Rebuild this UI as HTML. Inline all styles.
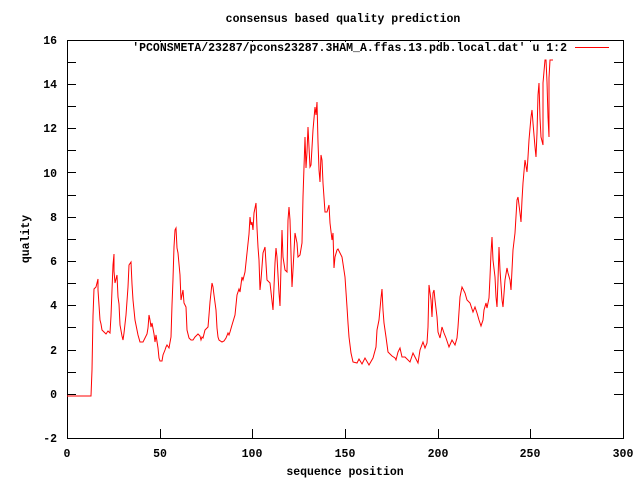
<!DOCTYPE html>
<html><head><meta charset="utf-8"><style>
html,body{margin:0;padding:0;background:#fff;}
svg{display:block;}
text{font-family:"Liberation Mono",monospace;font-size:11.5px;font-weight:bold;fill:#000;}
</style></head><body>
<svg width="640" height="480" viewBox="0 0 640 480" xmlns="http://www.w3.org/2000/svg">
<rect width="640" height="480" fill="#fff"/>
<g stroke="#000" stroke-width="1" fill="none" shape-rendering="crispEdges">
<rect x="67.5" y="40.5" width="556" height="398"/>
<path d="M67,438.5h9M623,438.5h-9M67,394.5h9M623,394.5h-9M67,372.5h9M623,372.5h-9M67,350.5h9M623,350.5h-9M67,327.5h9M623,327.5h-9M67,305.5h9M623,305.5h-9M67,283.5h9M623,283.5h-9M67,261.5h9M623,261.5h-9M67,239.5h9M623,239.5h-9M67,217.5h9M623,217.5h-9M67,195.5h9M623,195.5h-9M67,172.5h9M623,172.5h-9M67,150.5h9M623,150.5h-9M67,128.5h9M623,128.5h-9M67,106.5h9M623,106.5h-9M67,84.5h9M623,84.5h-9M67,62.5h9M623,62.5h-9M67,40.5h9M623,40.5h-9"/>
<path d="M67.5,438v-9M67.5,40v9M160.5,438v-9M160.5,40v9M252.5,438v-9M252.5,40v9M345.5,438v-9M345.5,40v9M438.5,438v-9M438.5,40v9M530.5,438v-9M530.5,40v9M623.5,438v-9M623.5,40v9"/>
</g>
<rect x="126" y="42" width="486" height="12" fill="#fff"/>
<g text-anchor="end">
<text x="57" y="442">-2</text><text x="57" y="398">0</text><text x="57" y="354">2</text>
<text x="57" y="309">4</text><text x="57" y="265">6</text><text x="57" y="221">8</text>
<text x="57" y="177">10</text><text x="57" y="132">12</text><text x="57" y="88">14</text>
<text x="57" y="44">16</text>
</g>
<g text-anchor="middle">
<text x="67" y="457">0</text><text x="160" y="457">50</text><text x="252" y="457">100</text>
<text x="345" y="457">150</text><text x="438" y="457">200</text><text x="530" y="457">250</text>
<text x="623" y="457">300</text>
<text x="343" y="22">consensus based quality prediction</text>
<text x="345" y="475">sequence position</text>
<text transform="translate(29,239) rotate(-90)">quality</text>
</g>
<text x="567" y="51" text-anchor="end">'PCONSMETA/23287/pcons23287.3HAM_A.ffas.13.pdb.local.dat' u 1:2</text>
<line x1="575" y1="47.5" x2="609" y2="47.5" stroke="#f00" stroke-width="1"/>
<polyline fill="none" stroke="#f00" stroke-width="1" points="67,396 91,396 92,370 93,316 94,289 96,287 97,283 98,279 98,290 99,305 100,320 101,324 102,330 104,332 106,334 108,331 110,333 111,316 112,290 113,265 114,254 114,271 115,283 117,275 118,297 119,304 120,325 122,336 123,340 124,333 126,315 128,287 129,265 131,262 132,284 133,300 135,320 138,335 140,342 143,342 145,338 147,334 148,328 149,315 150,320 151,327 152,323 154,334 155,342 156,335 158,348 159,358 160,361 162,361 163,355 165,350 166,347 167,345 169,348 171,337 172,305 173,279 174,247 175,230 176,228 177,248 178,253 179,264 180,275 181,300 182,295 183,290 184,303 186,307 187,330 189,338 191,340 193,340 195,337 197,335 198,334 200,336 201,340 202,337 203,338 205,330 207,328 208,327 209,315 210,302 212,283 213,287 214,295 216,310 217,328 218,337 219,340 222,342 224,341 226,338 228,333 229,335 230,332 232,325 235,315 237,295 239,289 240,292 242,277 243,280 245,272 247,253 249,234 250,217 251,225 252,222 253,230 254,213 256,203 257,228 258,247 259,260 260,290 261,280 263,253 265,247 267,280 270,283 273,310 275,263 276,248 277,257 279,293 280,306 281,267 282,230 283,257 285,270 287,272 288,220 289,207 290,220 292,287 293,270 295,233 297,243 298,257 300,255 302,243 303,197 305,137 306,168 307,152 308,127 310,167 311,165 313,130 315,107 316,115 317,102 318,142 319,170 320,182 321,155 322,160 323,183 325,212 327,212 329,205 330,223 332,240 333,233 334,268 335,257 337,250 338,249 342,257 345,277 347,307 348,323 349,337 351,353 353,362 357,363 359,359 362,364 365,358 369,365 373,358 376,347 377,330 379,320 381,298 382,289 383,310 384,323 386,337 388,352 392,356 395,358 396,360 398,352 400,348 402,357 405,357 410,362 413,353 416,359 418,363 420,350 423,342 425,348 427,343 428,327 429,285 431,300 432,317 433,293 434,290 435,300 437,317 438,332 440,338 442,327 444,333 446,338 449,347 452,340 455,345 457,338 458,327 460,297 462,287 465,293 467,300 470,303 473,312 475,307 477,313 479,320 481,326 483,320 484,310 486,303 487,308 489,298 490,277 491,253 492,237 493,260 495,277 496,297 497,307 498,280 499,247 500,270 502,300 503,307 505,280 507,268 508,273 510,280 511,290 512,270 513,250 515,233 517,200 518,197 520,213 521,222 522,200 523,183 525,160 527,172 528,157 529,140 531,117 532,110 533,123 535,147 536,157 537,133 538,95 539,83 540,118 541,137 543,145 543,83 545,60 546,60 547,82 548,117 549,137 549,78 550,60 553,60"/>
</svg>
</body></html>
